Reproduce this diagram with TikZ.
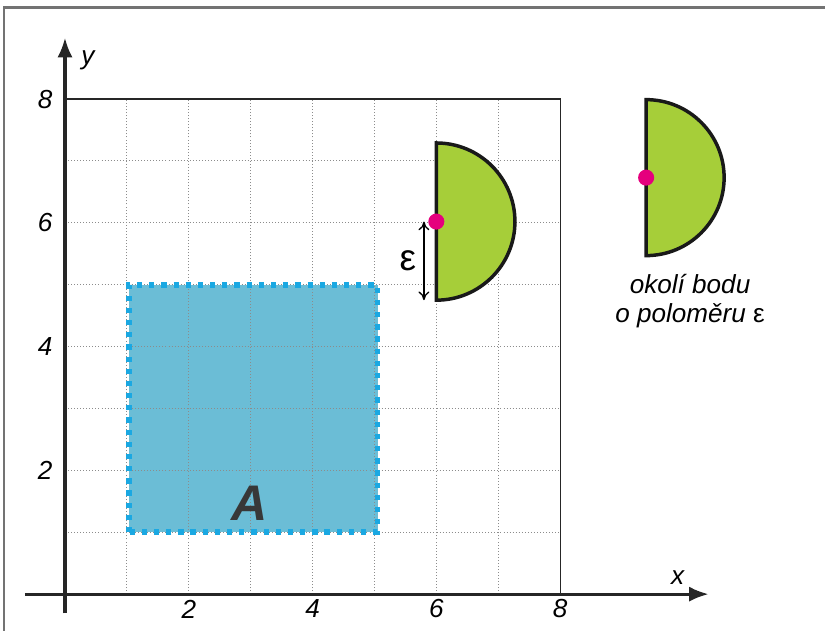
\documentclass[tikz,border=0pt]{standalone}
\usepackage{fontspec}
\setmainfont{Liberation Sans}
\usepackage{xcolor}
\usetikzlibrary{arrows.meta}
\definecolor{setfill}{HTML}{6BBDD6}
\definecolor{setedge}{HTML}{1AA8E2}
\definecolor{leafgreen}{HTML}{A6CE39}
\definecolor{pointpink}{HTML}{E5007D}

\begin{document}
\begin{tikzpicture}[x=1cm, y=1cm,
  axis/.style={line width=1.4pt, draw=black!85, -{Latex[length=9pt,width=7pt]}},
  gridline/.style={black!45, line width=0.4pt, densely dotted},
  tick/.style={font=\itshape\fontsize{12}{14}\selectfont, inner sep=0pt},
  halfdisc/.style={fill=leafgreen, draw=black!90, line width=1.6pt},
  pt/.style={circle, fill=pointpink, inner sep=0pt, minimum size=2.6mm}]
\useasboundingbox (-1.05,-0.58) rectangle (12.28,9.6);
% ramecek
\draw[black!55, line width=1pt] (-0.985,-0.7) -- (-0.985,9.48) -- (12.4,9.48);
% mnozina A
\fill[setfill] (1.03,1) rectangle (5.05,5);
% mrizka
\draw[gridline] (0,0) grid (8,8);
\draw[black!85, line width=0.5pt] (0,8) -- (8,8) -- (8,0);
\draw[setedge, line width=2.6pt, dash pattern=on 2.4pt off 3.2pt] (1.03,1) rectangle (5.05,5);
\node[font=\bfseries\itshape\fontsize{23}{26}\selectfont, text=black!78] (setA) at (2.99,1.47) {A};
% osy
\coordinate (xs) at (-0.65,0);
\coordinate (xe) at (10.4,0);
\coordinate (ys) at (0,-0.31);
\coordinate (ye) at (0,8.99);
\draw[axis] (xs) -- (xe);
\draw[axis] (ys) -- (ye);
\node[tick] (xlab) at (9.9,0.27) {x};
\node[tick] (ylab) at (0.37,8.63) {y};
\foreach \v in {2,4,6,8} {
  \node[tick] (xt\v) at (\v,-0.24) {\v};
  \node[tick] (yt\v) at (-0.32,\v) {\v};
}
% okoli bodu na hranici
\draw[halfdisc] (6,4.75) arc[start angle=-90, end angle=90, radius=1.27] -- cycle;
\node[pt] (p1) at (6,6.02) {};
\coordinate (e1) at (5.8,6.02);
\coordinate (e2) at (5.8,4.75);
\draw[{To[length=4pt,width=5pt]}-{To[length=4pt,width=5pt]}, line width=0.6pt] (e1) -- (e2);
\node[font=\fontsize{17}{19}\selectfont, inner sep=0pt] (eps) at (5.54,5.38) {ε};
% okoli bodu - legenda
\draw[halfdisc] (9.39,5.47) arc[start angle=-90, end angle=90, radius=1.26] -- cycle;
\node[pt] (p2) at (9.39,6.73) {};
\node[font=\itshape\fontsize{12}{13.5}\selectfont, align=center, inner sep=0pt] (legend) at (10.1,4.73) {okolí bodu\\o poloměru \textup{ε}};
\end{tikzpicture}
\end{document}
